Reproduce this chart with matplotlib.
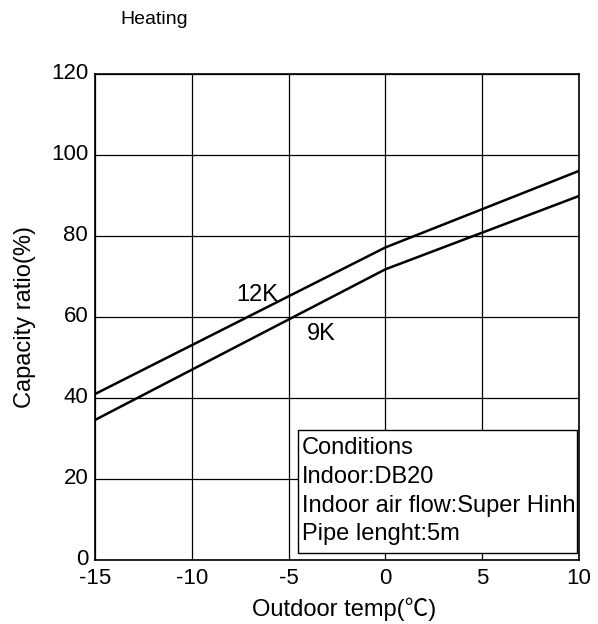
import matplotlib
matplotlib.use("Agg")
import matplotlib.pyplot as plt
import matplotlib.transforms as mtransforms
from matplotlib.patches import Rectangle

plt.rcParams['font.family'] = ['Liberation Sans', 'Noto Sans CJK JP', 'DejaVu Sans']
plt.rcParams['axes.unicode_minus'] = False

# outdoor temperature (deg C) and capacity ratio (%)
temps = [-15, 0, 10]
cap_12k = [41, 77.2, 96.1]
cap_9k = [34.6, 71.8, 89.9]

x_ticks = [-15, -10, -5, 0, 5, 10]
y_ticks = [0, 20, 40, 60, 80, 100, 120]

conditions = ["Conditions", "Indoor:DB20", "Indoor air flow:Super Hinh", "Pipe lenght:5m"]

fs = 17

fig = plt.figure(figsize=(5.98, 6.24), dpi=100)
ax = fig.add_axes([0.159, 0.1026, 0.809, 0.7785])

ax.plot(temps, cap_12k, color='black', lw=1.8)
ax.plot(temps, cap_9k, color='black', lw=1.8)

ax.set_xlim(-15, 10)
ax.set_ylim(0, 120)
ax.set_xticks(x_ticks)
ax.set_yticks(y_ticks)
ax.tick_params(length=0, labelsize=16)
ax.tick_params(axis='x', pad=6)
ax.tick_params(axis='y', pad=5)
ax.grid(True, color='black', lw=0.9)
for s in ax.spines.values():
    s.set_linewidth(1.2)

# y tick labels sit a little above their grid lines in the original
shift = mtransforms.ScaledTranslation(0, 3 / 100, fig.dpi_scale_trans)
for lab in ax.get_yticklabels():
    lab.set_transform(lab.get_transform() + shift)

ax.text(-6.6, 65.5, "12K", fontsize=fs, ha='center', va='center')
ax.text(-3.3, 55.8, "9K", fontsize=fs, ha='center', va='center')

ax.add_patch(Rectangle((-4.53, 1.7), 14.45, 30.4, facecolor='white',
                       edgecolor='black', lw=1.0, zorder=3))
for i, line in enumerate(conditions):
    ax.text(-4.3, 27.6 - i * 7.1, line, fontsize=fs, ha='left', va='center', zorder=4)

ax.set_xlabel("Outdoor temp(℃)", fontsize=fs, labelpad=6)
ax.xaxis.label.set_x(0.515)
ax.set_ylabel("Capacity ratio(%)", fontsize=fs, labelpad=11)

fig.text(120 / 598, 1 - 20 / 624, "Heating", fontsize=14, ha='left', va='center')

fig.savefig("out.png", dpi=100)
